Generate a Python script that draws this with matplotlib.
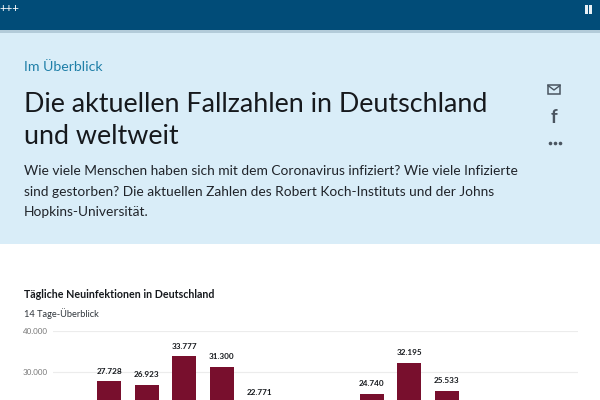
import numpy as np
import matplotlib.pyplot as plt
from matplotlib.patches import Rectangle

# hidden bars (cut off by the screenshot) stay nan
cases = [np.nan, 27728, 26923, 33777, 31300, 22771, np.nan, np.nan,
         24740, 32195, 25533, np.nan, np.nan, np.nan]
days = list(range(14))
y_ticks = [30000, 40000]
y_labels = ["30.000", "40.000"]
heading = ["Die aktuellen Fallzahlen in Deutschland", "und weltweit"]
intro = ["Wie viele Menschen haben sich mit dem Coronavirus infiziert? Wie viele Infizierte",
         "sind gestorben? Die aktuellen Zahlen des Robert Koch-Instituts und der Johns",
         "Hopkins-Universität."]

W, H = 600, 400
plt.rcParams['font.family'] = ['Lato', 'DejaVu Sans']


def fmt(v):
    return f"{v:,.0f}".replace(",", ".")


fig = plt.figure(figsize=(6, 4), dpi=100, facecolor='white')

# page layer in pixel coordinates
page = fig.add_axes([0, 0, 1, 1])
page.set_xlim(0, W)
page.set_ylim(H, 0)
page.axis('off')
page.add_patch(Rectangle((0, 33), W, 211, color='#d9edf8', lw=0))
page.add_patch(Rectangle((0, 0), W, 30, color='#014c78', lw=0))
page.add_patch(Rectangle((0, 30), W, 3, color='#b3cbd9', lw=0))

page.text(-1, 8.5, "+++", color='white', fontsize=8.2, va='center', ha='left')
page.add_patch(Rectangle((584.5, 5), 3, 8.5, color='#e8f0f5', lw=0))
page.add_patch(Rectangle((589, 5), 3, 8.5, color='#e8f0f5', lw=0))

page.text(24, 67, "Im Überblick", color='#1f7fa8', fontsize=10.2, va='center')
page.text(24, 105, heading[0], color='#16191d', fontsize=19.4, va='center')
page.text(24, 136, heading[1], color='#16191d', fontsize=19.4, va='center')
for y, line in zip([171, 191.5, 212.5], intro):
    page.text(24, y, line, color='#20242a', fontsize=9.95, va='center')

# share icons
icon = '#4a5560'
page.add_patch(Rectangle((548, 85), 12, 9, fc='none', ec=icon, lw=1.1))
page.plot([548, 554, 560], [85.5, 90, 85.5], color=icon, lw=1)
page.text(554, 117.5, "f", color=icon, fontsize=13.5, fontweight='bold', ha='center', va='center')
page.plot([549.5, 554.5, 559.5], [143, 143, 143], ls='none', marker='o', ms=2.6, mew=0, color=icon)

page.text(24, 295, "Tägliche Neuinfektionen in Deutschland", color='#16191d',
          fontsize=7.7, fontweight='bold', va='center')
page.text(24, 313.5, "14 Tage-Überblick", color='#30363c', fontsize=6.7, va='center')

# chart runs past the bottom edge of the screenshot
ax = fig.add_axes([53 / W, (H - 496.5) / H, 525 / W, 166 / H])
ax.patch.set_alpha(0)
ax.set_xlim(-0.5, 13.5)
ax.set_ylim(0, 40000)
ax.bar(days, cases, width=0.65, color='#780f2d', zorder=3)
for d, v in zip(days, cases):
    if not np.isnan(v):
        ax.annotate(fmt(v), (d, v), xytext=(0, 6.5), textcoords='offset pixels',
                    ha='center', va='bottom', fontsize=5.9, fontweight='bold',
                    color='#16191d', annotation_clip=False)
ax.set_yticks(y_ticks)
ax.set_yticklabels(y_labels, fontsize=5.8, color='#777777')
ax.set_xticks([])
ax.tick_params(axis='y', length=0, pad=3.5)
ax.grid(axis='y', color='#ececec', lw=0.8, zorder=0)
ax.set_axisbelow(True)
for s in ax.spines.values():
    s.set_visible(False)

fig.savefig('out.png', dpi=100)
